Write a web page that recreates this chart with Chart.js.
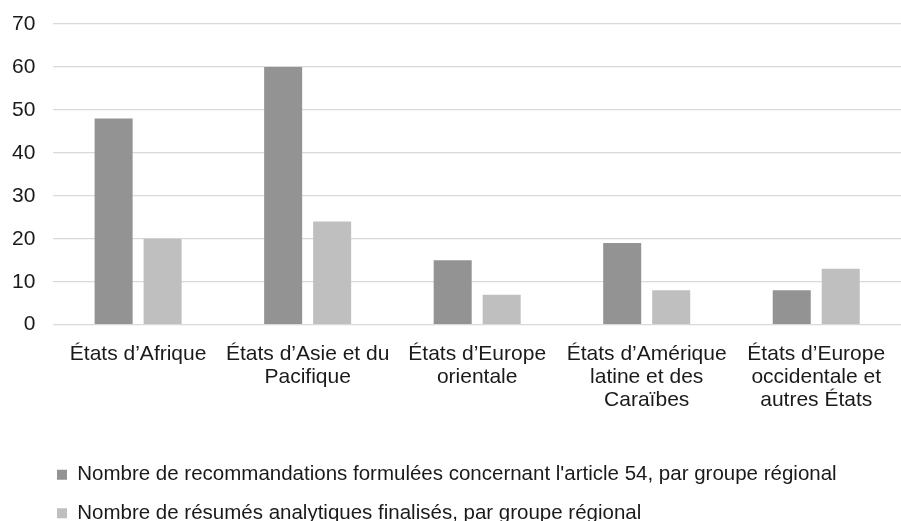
<!DOCTYPE html>
<html>
<head>
<meta charset="utf-8">
<script src="https://cdn.jsdelivr.net/npm/chart.js@4.4.0/dist/chart.umd.min.js"></script>
<style>
  html, body { margin: 0; padding: 0; background: #ffffff; }
  #wrap { width: 901px; height: 521px; position: relative; }
</style>
</head>
<body>
<div id="wrap"><canvas id="chart"></canvas></div>
<script>
// Regional groups (wrapped onto several lines as axis labels)
const categories = [
  ["États d’Afrique"],
  ["États d’Asie et du", "Pacifique"],
  ["États d’Europe", "orientale"],
  ["États d’Amérique", "latine et des", "Caraïbes"],
  ["États d’Europe", "occidentale et", "autres États"]
];

const seriesNames = [
  "Nombre de recommandations formulées concernant l'article 54, par groupe régional",
  "Nombre de résumés analytiques finalisés, par groupe régional"
];

const recommandations = [48, 60, 15, 19, 8];
const resumes = [20, 24, 7, 8, 13];

const yTicks = [0, 10, 20, 30, 40, 50, 60, 70];

const FONT = "'Liberation Sans', Arial, sans-serif";

// Moves the legend block so its rows start left-aligned under the plot
const legendOffset = {
  id: 'legendOffset',
  afterLayout(chart) {
    const lg = chart.legend;
    if (lg) {
      lg.left += 36;
      lg.top += 24.5;
      lg.bottom += 24.5;
    }
  }
};

new Chart(document.getElementById('chart'), {
  type: 'bar',
  data: {
    labels: categories,
    datasets: [
      { label: seriesNames[0], data: recommandations, backgroundColor: '#939393' },
      { label: seriesNames[1], data: resumes, backgroundColor: '#bfbfbf' }
    ]
  },
  options: {
    responsive: true,
    maintainAspectRatio: false,
    animation: false,
    events: [],
    datasets: {
      bar: { categoryPercentage: 0.578, barPercentage: 0.776 }
    },
    layout: { padding: { left: 3, right: 0, top: 24, bottom: 12 } },
    plugins: {
      tooltip: { enabled: false },
      legend: {
        position: 'bottom',
        align: 'start',
        labels: {
          boxWidth: 10,
          boxHeight: 10,
          padding: 18,
          color: '#1a1a1a',
          font: { family: FONT, size: 20.5 }
        }
      }
    },
    scales: {
      x: {
        grid: { display: false },
        border: { display: false },
        ticks: {
          color: '#1a1a1a',
          font: { family: FONT, size: 21, lineHeight: 1.1 },
          maxRotation: 0,
          autoSkip: false,
          padding: 10
        }
      },
      y: {
        min: 0,
        max: 70,
        afterBuildTicks(axis) { axis.ticks = yTicks.map(v => ({ value: v })); },
        grid: {
          color: '#d9d9d9',
          lineWidth: 1.3,
          drawTicks: true,
          tickLength: 9,
          tickColor: 'rgba(0,0,0,0)'
        },
        border: { display: false },
        ticks: {
          color: '#1a1a1a',
          font: { family: FONT, size: 21 },
          padding: 9
        }
      }
    }
  },
  plugins: [legendOffset]
});
</script>
</body>
</html>
